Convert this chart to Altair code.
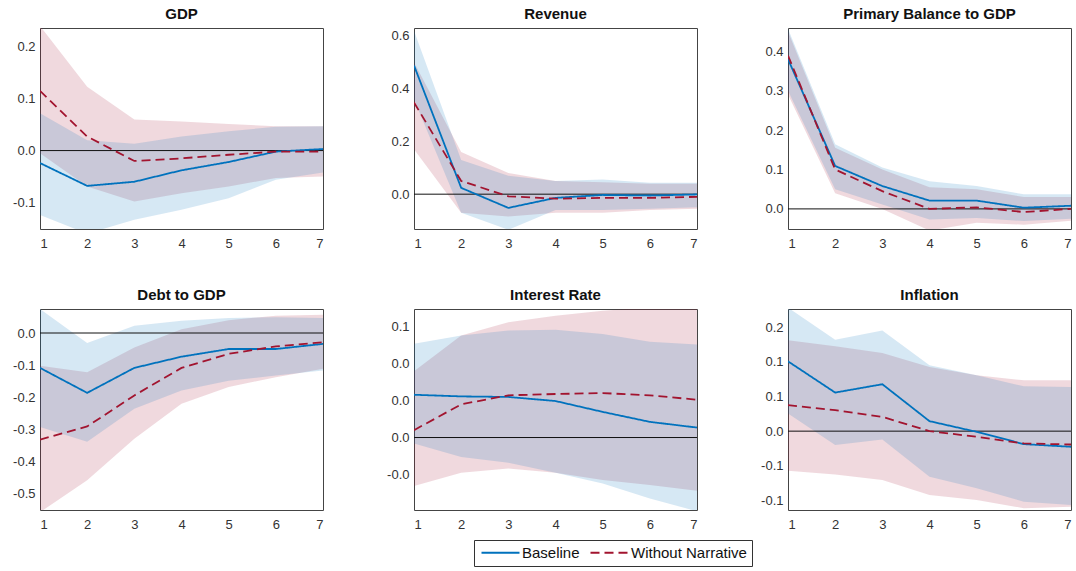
import altair as alt
import pandas as pd

steps = [1, 2, 3, 4, 5, 6, 7]
series_names = ["Baseline", "Without Narrative"]

# ---- GDP ----
gdp_base_mid = [-0.024, -0.068, -0.060, -0.038, -0.022, -0.002, 0.003]
gdp_base_lo = [-0.124, -0.160, -0.133, -0.114, -0.092, -0.056, -0.042]
gdp_base_hi = [0.072, 0.020, 0.013, 0.027, 0.037, 0.046, 0.047]
gdp_nn_mid = [0.115, 0.027, -0.020, -0.015, -0.008, -0.002, -0.002]
gdp_nn_lo = [-0.005, -0.069, -0.098, -0.082, -0.069, -0.053, -0.050]
gdp_nn_hi = [0.240, 0.123, 0.060, 0.056, 0.051, 0.047, 0.047]

# ---- Revenue ----
rev_base_mid = [0.488, 0.024, -0.052, -0.014, -0.003, -0.005, -0.001]
rev_base_lo = [0.360, -0.070, -0.135, -0.060, -0.060, -0.055, -0.050]
rev_base_hi = [0.620, 0.130, 0.070, 0.050, 0.056, 0.043, 0.043]
rev_nn_mid = [0.348, 0.050, -0.008, -0.017, -0.014, -0.014, -0.010]
rev_nn_lo = [0.170, -0.070, -0.085, -0.070, -0.070, -0.060, -0.055]
rev_nn_hi = [0.500, 0.160, 0.080, 0.050, 0.045, 0.040, 0.040]

# ---- Primary Balance to GDP ----
pb_base_mid = [0.380, 0.109, 0.058, 0.021, 0.021, 0.003, 0.008]
pb_base_lo = [0.300, 0.050, 0.011, -0.027, -0.023, -0.031, -0.025]
pb_base_hi = [0.457, 0.164, 0.105, 0.070, 0.058, 0.037, 0.037]
pb_nn_mid = [0.389, 0.100, 0.045, 0.000, 0.004, -0.008, 0.000]
pb_nn_lo = [0.290, 0.040, 0.000, -0.055, -0.035, -0.040, -0.030]
pb_nn_hi = [0.450, 0.155, 0.100, 0.055, 0.050, 0.030, 0.030]

# ---- Debt to GDP ----
debt_base_mid = [-0.109, -0.187, -0.109, -0.074, -0.050, -0.050, -0.034]
debt_base_lo = [-0.294, -0.340, -0.237, -0.180, -0.149, -0.133, -0.117]
debt_base_hi = [0.075, -0.031, 0.023, 0.038, 0.047, 0.049, 0.047]
debt_nn_mid = [-0.333, -0.292, -0.195, -0.109, -0.065, -0.042, -0.029]
debt_nn_lo = [-0.560, -0.460, -0.330, -0.221, -0.169, -0.138, -0.112]
debt_nn_hi = [-0.102, -0.123, -0.045, 0.012, 0.040, 0.054, 0.057]

# ---- Interest Rate ----
ir_base_mid = [0.0232, 0.0223, 0.0220, 0.0198, 0.0139, 0.0085, 0.0054]
ir_base_lo = [-0.0032, -0.0105, -0.0137, -0.0191, -0.0249, -0.0330, -0.0400]
ir_base_hi = [0.0508, 0.0553, 0.0580, 0.0584, 0.0562, 0.0520, 0.0505]
ir_nn_mid = [0.0040, 0.0180, 0.0229, 0.0236, 0.0241, 0.0229, 0.0205]
ir_nn_lo = [-0.0263, -0.0191, -0.0168, -0.0191, -0.0230, -0.0258, -0.0288]
ir_nn_hi = [0.0360, 0.0553, 0.0625, 0.0660, 0.0688, 0.0705, 0.0705]

# ---- Inflation ----
inf_base_mid = [0.1006, 0.0556, 0.0676, 0.0144, -0.0010, -0.0187, -0.0225]
inf_base_lo = [0.0254, -0.0200, -0.0120, -0.0656, -0.0824, -0.1016, -0.1064]
inf_base_hi = [0.1780, 0.1318, 0.1452, 0.0949, 0.0805, 0.0647, 0.0637]
inf_nn_mid = [0.0374, 0.0302, 0.0206, 0.0000, -0.0081, -0.0177, -0.0192]
inf_nn_lo = [-0.0570, -0.0623, -0.0704, -0.0920, -0.0992, -0.1110, -0.1088]
inf_nn_hi = [0.1308, 0.1222, 0.1126, 0.0925, 0.0805, 0.0733, 0.0733]

panels = [
    ("GDP", [-0.151, 0.236], [-0.1, 0.0, 0.1, 0.2],
     (gdp_base_mid, gdp_base_lo, gdp_base_hi), (gdp_nn_mid, gdp_nn_lo, gdp_nn_hi)),
    ("Revenue", [-0.132, 0.63], [0.0, 0.2, 0.4, 0.6],
     (rev_base_mid, rev_base_lo, rev_base_hi), (rev_nn_mid, rev_nn_lo, rev_nn_hi)),
    ("Primary Balance to GDP", [-0.051, 0.459], [0.0, 0.1, 0.2, 0.3, 0.4],
     (pb_base_mid, pb_base_lo, pb_base_hi), (pb_nn_mid, pb_nn_lo, pb_nn_hi)),
    ("Debt to GDP", [-0.553, 0.075], [-0.5, -0.4, -0.3, -0.2, -0.1, 0.0],
     (debt_base_mid, debt_base_lo, debt_base_hi), (debt_nn_mid, debt_nn_lo, debt_nn_hi)),
    ("Interest Rate", [-0.0393, 0.0697], [-0.02, 0.0, 0.02, 0.04, 0.06],
     (ir_base_mid, ir_base_lo, ir_base_hi), (ir_nn_mid, ir_nn_lo, ir_nn_hi)),
    ("Inflation", [-0.1136, 0.176], [-0.1, -0.05, 0.0, 0.05, 0.1, 0.15],
     (inf_base_mid, inf_base_lo, inf_base_hi), (inf_nn_mid, inf_nn_lo, inf_nn_hi)),
]

BLUE = "#0072BD"
RED = "#A2142F"
FONT = "Liberation Sans"
LABEL_COLOR = "#333333"
label_expr = ("(datum.value < -1e-9 ? '-' : '') + "
              "format(round(abs(datum.value) * 10 + 1e-6) / 10, '.1f')")


def make_panel(title, domain, ticks, base, nn):
    rows = []
    for s, (mid, lo, hi) in zip(series_names, [base, nn]):
        for i, st in enumerate(steps):
            rows.append({"step": st, "series": s, "mid": mid[i], "lo": lo[i], "hi": hi[i]})
    df = pd.DataFrame(rows)

    x = alt.X("step:Q", scale=alt.Scale(domain=[1, 7], nice=False, zero=False),
              axis=alt.Axis(values=steps, format="d", title=None, grid=False, ticks=False,
                            domain=False, minExtent=22, maxExtent=22, labelPadding=8,
                            labelFont=FONT, labelFontSize=13, labelColor=LABEL_COLOR))
    yscale = alt.Scale(domain=domain, nice=False, zero=False)
    yaxis = alt.Axis(values=ticks, labelExpr=label_expr, title=None, grid=False, ticks=False,
                     domain=False, minExtent=30, maxExtent=30, labelPadding=5,
                     labelFont=FONT, labelFontSize=13, labelColor=LABEL_COLOR)

    base_chart = alt.Chart(df)

    red_band = base_chart.transform_filter(alt.datum.series == "Without Narrative").mark_area(
        color=RED, opacity=0.16, clip=True
    ).encode(x=x, y=alt.Y("lo:Q", scale=yscale, axis=yaxis), y2="hi:Q")

    blue_band = base_chart.transform_filter(alt.datum.series == "Baseline").mark_area(
        color=BLUE, opacity=0.16, clip=True
    ).encode(x=x, y=alt.Y("lo:Q", scale=yscale, axis=yaxis), y2="hi:Q")

    zero = base_chart.transform_filter(alt.datum.step == 1).transform_filter(
        alt.datum.series == "Baseline"
    ).mark_rule(color="#111111", strokeWidth=1).encode(y=alt.datum(0))

    legend = alt.Legend(
        title=None, orient="none", legendX=434, legendY=512, direction="horizontal",
        strokeColor="#333333", fillColor="white", padding=5,
        symbolType="M-3.8,0H3.8", symbolSize=100, symbolStrokeWidth=1.8,
        symbolOffset=14, labelOffset=14, columnPadding=6,
        labelFont=FONT, labelFontSize=15, labelColor="#111111",
    )
    lines = base_chart.mark_line(strokeWidth=1.8, clip=True).encode(
        x=x,
        y=alt.Y("mid:Q", scale=yscale, axis=yaxis),
        color=alt.Color("series:N", scale=alt.Scale(domain=series_names, range=[BLUE, RED]),
                        legend=legend),
        strokeDash=alt.StrokeDash("series:N",
                                  scale=alt.Scale(domain=series_names, range=[[1, 0], [9, 5]]),
                                  legend=legend),
    )

    return alt.layer(red_band, blue_band, zero, lines).properties(
        width=283, height=201,
        title=alt.TitleParams(title, fontSize=15, fontWeight="bold", font=FONT,
                              color="#111111", offset=6, anchor="middle"),
    )


charts = [make_panel(*p) for p in panels]
row1 = alt.hconcat(*charts[:3], spacing=59)
row2 = alt.hconcat(*charts[3:], spacing=59)

chart = alt.vconcat(row1, row2, spacing=35).properties(
    padding={"left": 9, "top": 6, "right": 0, "bottom": 0},
    background="white",
).configure_view(
    stroke="#444444", strokeWidth=1
).configure_axis(
    grid=False, domain=False, ticks=False,
    labelFont=FONT, labelFontSize=13, labelColor=LABEL_COLOR,
)

chart.save("out.html", embed_options={"renderer": "svg", "actions": False})
